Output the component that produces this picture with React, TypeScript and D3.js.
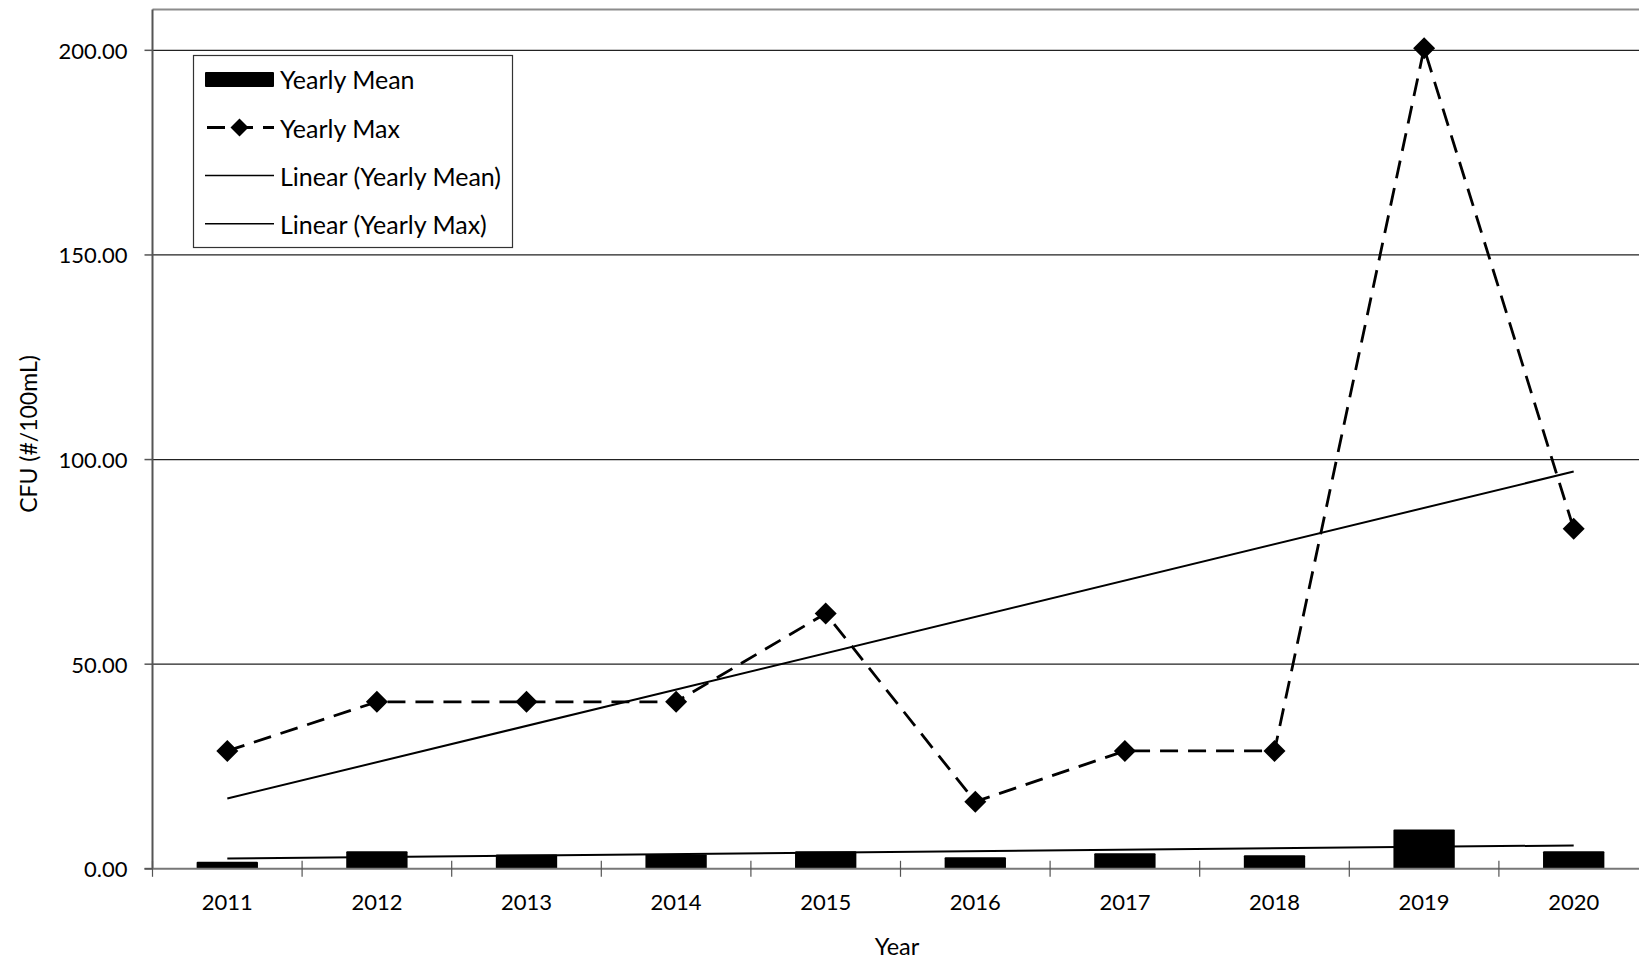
import React from "react";
import * as d3 from "d3";

const years = ["2011", "2012", "2013", "2014", "2015", "2016", "2017", "2018", "2019", "2020"];
const yearlyMean = [1.7, 4.3, 3.5, 3.5, 4.3, 2.8, 3.8, 3.3, 9.6, 4.3];
const yearlyMax = [28.8, 40.8, 40.8, 40.8, 62.4, 16.4, 28.8, 28.8, 200.5, 83.1];
const yTicks = [0, 50, 100, 150, 200];
const legendLabels = ["Yearly Mean", "Yearly Max", "Linear (Yearly Mean)", "Linear (Yearly Max)"];

const W = 1639;
const H = 961;
const FONT = "Lato, 'Open Sans', sans-serif";

function linreg(vals: number[]) {
  const n = vals.length;
  const xs = vals.map((_, i) => i + 1);
  const mx = d3.mean(xs)!;
  const my = d3.mean(vals)!;
  let num = 0, den = 0;
  xs.forEach((x, i) => { num += (x - mx) * (vals[i] - my); den += (x - mx) ** 2; });
  const slope = num / den;
  const icpt = my - slope * mx;
  return [icpt + slope * 1, icpt + slope * n];
}

export default function App() {
  const left = 152.5;
  const band = 149.6;
  const x = d3.scaleBand().domain(years).range([left, left + band * years.length]).padding(0);
  const y = d3.scaleLinear().domain([0, 210]).range([868.8, 9.4]);
  const cx = (yr: string) => (x(yr) as number) + x.bandwidth() / 2;
  const barW = x.bandwidth() * 0.41;
  const right = left + band * years.length;

  const maxLine = d3.line<number>().x((_, i) => cx(years[i])).y((d) => y(d));
  const meanTrend = linreg(yearlyMean);
  const maxTrend = linreg(yearlyMax);
  const x0 = cx(years[0]);
  const x1 = cx(years[years.length - 1]);

  const diamond = (px: number, py: number, r: number) =>
    `M${px},${py - r}L${px + r},${py}L${px},${py + r}L${px - r},${py}Z`;

  const legX = 193.5, legY = 55.5, legW = 319, legH = 192;
  const rowY = [79.4, 127.5, 175.6, 223.7];
  const symX0 = 205, symX1 = 274, textX = 280;

  return (
    <svg width={W} height={H} style={{ position: "fixed", left: 0, top: 0, background: "#fff" }} fontFamily={FONT}>
      <rect x={0} y={0} width={W} height={H} fill="#fff" />
      {/* gridlines */}
      {yTicks.filter((t) => t > 0).map((t) => (
        <line key={t} x1={left} x2={right} y1={y(t)} y2={y(t)} stroke="#222" strokeWidth={1.3} />
      ))}
      {/* plot frame top */}
      <line x1={left} x2={right} y1={y(210)} y2={y(210)} stroke="#8c8c8c" strokeWidth={2} />
      {/* bars */}
      {years.map((yr, i) => (
        <rect key={yr} x={cx(yr) - barW / 2} y={y(yearlyMean[i])} width={barW} height={y(0) - y(yearlyMean[i])} fill="#000" rx={1} />
      ))}
      {/* axes */}
      <line x1={left} x2={left} y1={y(210)} y2={y(0)} stroke="#555" strokeWidth={2} />
      <line x1={left - 8} x2={right} y1={y(0)} y2={y(0)} stroke="#777" strokeWidth={2} />
      {yTicks.map((t) => (
        <g key={t}>
          <line x1={left - 8} x2={left} y1={y(t)} y2={y(t)} stroke="#555" strokeWidth={1.5} />
          <text x={127.5} y={y(t)} textAnchor="end" dominantBaseline="central" fontSize={22} fill="#000">
            {t.toFixed(2)}
          </text>
        </g>
      ))}
      {years.map((yr) => (
        <line key={"t" + yr} x1={(x(yr) as number)} x2={(x(yr) as number)} y1={y(0) - 8} y2={y(0) + 8} stroke="#555" strokeWidth={1.2} />
      ))}
      {years.map((yr) => (
        <text key={"l" + yr} x={cx(yr)} y={901} textAnchor="middle" dominantBaseline="central" fontSize={22} fill="#000">
          {yr}
        </text>
      ))}
      {/* trend lines */}
      <line x1={x0} x2={x1} y1={y(meanTrend[0])} y2={y(meanTrend[1])} stroke="#000" strokeWidth={2} />
      <line x1={x0} x2={x1} y1={y(maxTrend[0])} y2={y(maxTrend[1])} stroke="#000" strokeWidth={2} />
      {/* yearly max */}
      <path d={maxLine(yearlyMax) || ""} fill="none" stroke="#000" strokeWidth={2.8} strokeDasharray="18,10" />
      {yearlyMax.map((v, i) => (
        <path key={i} d={diamond(cx(years[i]), y(v), 11)} fill="#000" />
      ))}
      {/* axis titles */}
      <text x={897} y={946} textAnchor="middle" dominantBaseline="central" fontSize={23.5} fill="#000">Year</text>
      <text transform={`translate(28,434) rotate(-90)`} textAnchor="middle" dominantBaseline="central" fontSize={23} fill="#000">
        CFU (#/100mL)
      </text>
      {/* legend */}
      <rect x={legX} y={legY} width={legW} height={legH} fill="#fff" stroke="#333" strokeWidth={1.2} />
      <rect x={symX0} y={rowY[0] - 7.5} width={symX1 - symX0} height={15} fill="#000" rx={1} />
      <line x1={symX0} x2={symX1} y1={rowY[1]} y2={rowY[1]} stroke="#000" strokeWidth={2.8} strokeDasharray="18,10" strokeDashoffset={-2} />
      <path d={diamond((symX0 + symX1) / 2, rowY[1], 9)} fill="#000" />
      <line x1={symX0} x2={symX1} y1={rowY[2]} y2={rowY[2]} stroke="#000" strokeWidth={1.5} />
      <line x1={symX0} x2={symX1} y1={rowY[3]} y2={rowY[3]} stroke="#000" strokeWidth={1.5} />
      {legendLabels.map((l, i) => (
        <text key={l} x={textX} y={rowY[i]} dominantBaseline="central" fontSize={25} fill="#000">{l}</text>
      ))}
    </svg>
  );
}
